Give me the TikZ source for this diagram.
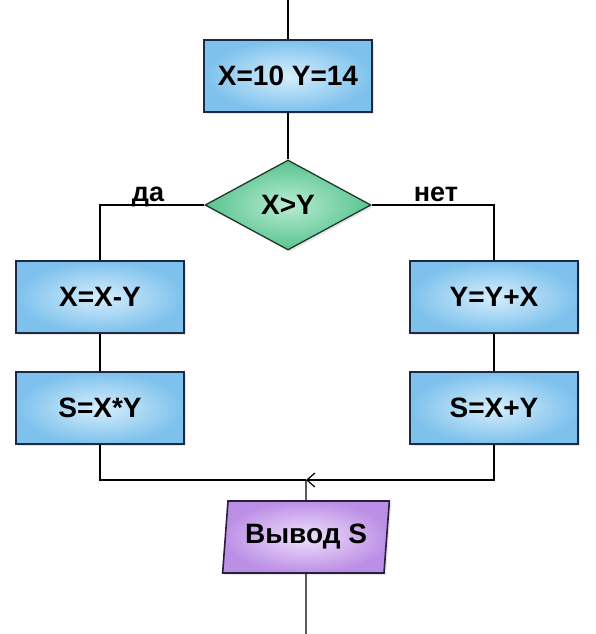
\documentclass[tikz,border=0pt]{standalone}
\usepackage{fontspec}
\setmainfont{Liberation Sans}
\usetikzlibrary{shapes.geometric,shadows,arrows.meta}
\definecolor{boxin}{HTML}{D6EEFC}
\definecolor{boxout}{HTML}{7DC1EC}
\definecolor{boxline}{HTML}{1E2A44}
\definecolor{dmin}{HTML}{B8ECD3}
\definecolor{dmout}{HTML}{58C38E}
\definecolor{dmline}{HTML}{1E3A2A}
\definecolor{ioin}{HTML}{F0E0FC}
\definecolor{ioout}{HTML}{BC8FE6}
\definecolor{ioline}{HTML}{2A1E3A}
\tikzset{
  procbox/.style={rectangle, draw=boxline, line width=1.6pt, inner color=boxin, outer color=boxout,
    minimum width=168pt, minimum height=72pt, inner sep=0pt,
    font=\fontsize{28}{30}\selectfont\bfseries,
    drop shadow={opacity=0.2, shadow xshift=2pt, shadow yshift=-2pt}},
  decbox/.style={diamond, draw=dmline, line width=1.3pt, inner color=dmin, outer color=dmout,
    minimum width=166pt, minimum height=90pt, aspect=1.84, inner sep=0pt,
    font=\fontsize{28}{30}\selectfont\bfseries,
    drop shadow={opacity=0.2, shadow xshift=2pt, shadow yshift=-2pt}},
  iobox/.style={trapezium, trapezium left angle=80.5, trapezium right angle=99.5, trapezium stretches,
    draw=ioline, line width=1.6pt, inner color=ioin, outer color=ioout,
    minimum width=167pt, minimum height=72pt, inner sep=0pt,
    font=\fontsize{28}{30}\selectfont\bfseries,
    drop shadow={opacity=0.2, shadow xshift=2pt, shadow yshift=-2pt}},
  conn/.style={draw=black, line width=1.2pt},
  lbl/.style={font=\fontsize{27}{29}\selectfont\bfseries, inner sep=0pt}
}
\begin{document}
\begin{tikzpicture}[x=1pt,y=-1pt]
\useasboundingbox (0,0) rectangle (596,634);
\coordinate (top) at (288,0);
\node[procbox] (init) at (288,76) {X=10 Y=14};
\node[decbox] (cond) at (288,205) {X>Y};
\node[procbox] (l1) at (100,297) {X=X-Y};
\node[procbox] (l2) at (100,408) {S=X*Y};
\node[procbox] (r1) at (494,297) {Y=Y+X};
\node[procbox] (r2) at (494,408) {S=X+Y};
\coordinate (join) at (306,480);
\node[iobox] (out) at (306,537) {Вывод S};
\coordinate (bottom) at (306,634);
\node[lbl, anchor=base] (yes) at (148,201) {да};
\node[lbl, anchor=base] (no) at (436,201) {нет};
\draw[conn] (top) -- (init.north);
\draw[conn] (init.south) -- (cond.north);
\draw[conn] (cond.west) -| (l1.north);
\draw[conn] (cond.east) -| (r1.north);
\draw[conn] (l1.south) -- (l2.north);
\draw[conn] (r1.south) -- (r2.north);
\draw[conn] (l2.south) |- (join);
\draw[conn, -{Straight Barb[length=8pt,width=14pt]}] (r2.south) |- (join);
\draw[conn] (join) -- (out.north);
\draw[conn] (out.south) -- (bottom);
\end{tikzpicture}
\end{document}
